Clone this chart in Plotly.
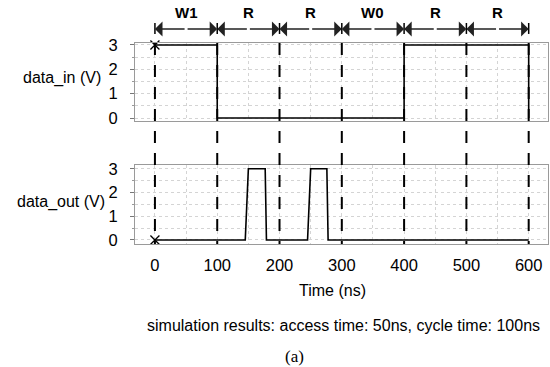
import plotly.graph_objects as go

# ---- data ----
t_in = [0, 100, 100, 400, 400, 600, 600]
v_in = [3, 3, 0, 0, 3, 3, 0]
t_out = [0, 145, 150, 177, 179, 245, 250, 276, 278, 600]
v_out = [0, 0, 3, 3, 0, 0, 3, 3, 0, 0]
cycle_bounds = [0, 100, 200, 300, 400, 500, 600]
cycle_labels = ["W1", "R", "R", "W0", "R", "R"]
x_ticks = [0, 100, 200, 300, 400, 500, 600]
y_ticks = [0, 1, 2, 3]

FONT = "Liberation Sans, Arial, sans-serif"
GRID = "#d4d4d4"

fig = go.Figure()
fig.add_trace(go.Scatter(x=t_in, y=v_in, mode="lines", line=dict(color="black", width=1.6),
                         xaxis="x2", yaxis="y2", showlegend=False, hoverinfo="skip"))
fig.add_trace(go.Scatter(x=[t_in[0]], y=[v_in[0]], mode="markers",
                         marker=dict(symbol="x-thin-open", size=9, color="black",
                                     line=dict(color="black", width=1.3)),
                         xaxis="x2", yaxis="y2", showlegend=False, cliponaxis=False))
fig.add_trace(go.Scatter(x=t_out, y=v_out, mode="lines", line=dict(color="black", width=1.6),
                         xaxis="x", yaxis="y", showlegend=False, hoverinfo="skip"))
fig.add_trace(go.Scatter(x=[t_out[0]], y=[v_out[0]], mode="markers",
                         marker=dict(symbol="x-thin-open", size=9, color="black",
                                     line=dict(color="black", width=1.3)),
                         xaxis="x", yaxis="y", showlegend=False, cliponaxis=False))

grid = dict(showgrid=True, gridcolor=GRID, griddash="dot", gridwidth=1)
axline = dict(showline=True, linecolor="#9a9a9a", linewidth=1, mirror=True, zeroline=False)

xcommon = dict(range=[-32, 631], tickvals=x_ticks, **grid, **axline,
               minor=dict(dtick=50, showgrid=True, gridcolor=GRID, griddash="dot"),
               tickfont=dict(family=FONT, size=16.5, color="black"))

ycommon = dict(tickvals=y_ticks, ticks="outside", ticklen=4, tickcolor="#777",
               ticklabelstandoff=9, **grid, **axline,
               minor=dict(dtick=0.5, ticks="outside", ticklen=2, tickcolor="#999",
                          showgrid=True, gridcolor=GRID, griddash="dot"),
               tickfont=dict(family=FONT, size=16.5, color="black"))

fig.update_layout(
    width=550, height=367,
    margin=dict(l=135, r=2, t=43, b=123),
    plot_bgcolor="white", paper_bgcolor="white",
    xaxis=dict(anchor="y", ticks="", ticklabelstandoff=6, **xcommon),
    xaxis2=dict(anchor="y2", matches="x", showticklabels=False, ticks="", **xcommon),
    yaxis=dict(domain=[0, 0.3955], range=[-0.17, 3.18], **ycommon),
    yaxis2=dict(domain=[0.612, 1], range=[-0.12, 3.08], **ycommon),
)

shapes = []
annotations = []
ARROW_Y = 1.0697
for b in cycle_bounds:
    shapes.append(dict(type="line", xref="x", yref="paper", x0=b, x1=b, y0=1, y1=0,
                       line=dict(color="black", width=2, dash="12px,10px"), layer="above"))
    shapes.append(dict(type="line", xref="x", yref="paper", x0=b, x1=b, y0=1.045, y1=1.0995,
                       line=dict(color="black", width=1.5)))

for i, lab in enumerate(cycle_labels):
    a, b = cycle_bounds[i], cycle_bounds[i + 1]
    mid = (a + b) / 2
    for end in (a, b):
        annotations.append(dict(x=end, y=ARROW_Y, xref="x", yref="paper",
                                ax=mid, ay=0, axref="x", ayref="pixel",
                                text="", showarrow=True, arrowhead=1, arrowsize=1.8,
                                arrowwidth=1.4, arrowcolor="#222", standoff=0, startstandoff=0))
    annotations.append(dict(x=mid, y=1.1517, xref="x", yref="paper", text="<b>%s</b>" % lab,
                            showarrow=False, font=dict(family=FONT, size=15, color="black"),
                            xanchor="center", yanchor="middle"))

annotations += [
    dict(x=-0.0775, y=0.826, xref="paper", yref="paper", text="data_in (V)", showarrow=False,
         xanchor="right", yanchor="middle", font=dict(family=FONT, size=16, color="black")),
    dict(x=-0.0678, y=0.209, xref="paper", yref="paper", text="data_out (V)", showarrow=False,
         xanchor="right", yanchor="middle", font=dict(family=FONT, size=16, color="black")),
    dict(x=0.477, y=-0.229, xref="paper", yref="paper", text="Time (ns)", showarrow=False,
         xanchor="center", yanchor="middle", font=dict(family=FONT, size=16, color="black")),
    dict(x=0.506, y=-0.403, xref="paper", yref="paper",
         text="simulation results: access time: 50ns, cycle time: 100ns", showarrow=False,
         xanchor="center", yanchor="middle", font=dict(family=FONT, size=16, color="black")),
    dict(x=0.387, y=-0.562, xref="paper", yref="paper", text="(a)", showarrow=False,
         xanchor="center", yanchor="middle",
         font=dict(family="Liberation Serif, Times New Roman, serif", size=17, color="black")),
]

fig.update_layout(shapes=shapes, annotations=annotations)
fig.write_html("out.html", config={"displayModeBar": False},
               post_script="document.body.style.margin='0';document.body.style.padding='0';")
